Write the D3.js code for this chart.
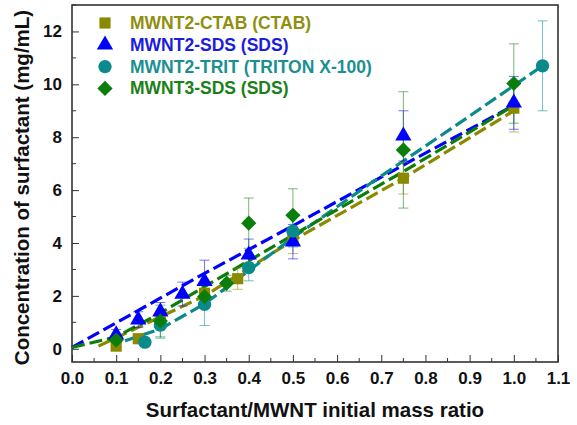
<!DOCTYPE html>
<html>
<head>
<meta charset="utf-8">
<script src="https://cdn.jsdelivr.net/npm/d3@7"></script>
<style>
  body { margin: 0; background: #fff; }
  svg { font-family: "Liberation Sans", Arial, sans-serif; font-weight: bold; }
</style>
</head>
<body>
<div id="app"></div>
<script>
// values

const xTicks = [0, 0.1, 0.2, 0.3, 0.4, 0.5, 0.6, 0.7, 0.8, 0.9, 1.0, 1.1];
const yTicks = [0, 2, 4, 6, 8, 10, 12];

const ctabX = [0.1, 0.15, 0.2, 0.3, 0.375, 0.5, 0.75, 1.0];
const ctabY = [0.1, 0.38, 1.0, 2.1, 2.65, 4.1, 6.45, 9.1];
const ctabErr = [0.1, 0.15, 0.3, 0.3, 0.4, 0.5, 0.6, 0.9];
const ctabFitX = [0.06, 0.3, 0.5, 0.75, 1.0];
const ctabFitY = [0.1, 2.0, 4.1, 6.45, 9.0];

const sdsX = [0.1, 0.15, 0.2, 0.25, 0.3, 0.4, 0.5, 0.75, 1.0];
const sdsY = [0.53, 1.1, 1.4, 2.07, 2.55, 3.55, 4.05, 8.05, 9.3];
const sdsErr = [0.2, 0.3, 0.35, 0.45, 0.8, 0.6, 0.65, 0.95, 1.0];
const sdsFitX = [0, 0.3, 0.5, 0.75, 1.0];
const sdsFitY = [0.05, 2.85, 4.65, 6.95, 9.2];

const tritX = [0.165, 0.2, 0.3, 0.4, 0.5, 1.065];
const tritY = [0.25, 0.9, 1.68, 3.07, 4.45, 10.7];
const tritErr = [0.15, 0.5, 0.8, 0.5, 0.6, 1.7];
const tritFitX = [0.12, 0.2, 0.3, 0.4, 0.5, 0.675, 0.9, 1.065];
const tritFitY = [0.3, 0.75, 1.7, 2.95, 4.2, 6.25, 8.8, 10.7];

const m3X = [0.1, 0.2, 0.3, 0.35, 0.4, 0.5, 0.75, 1.0];
const m3Y = [0.33, 1.05, 1.97, 2.48, 4.75, 5.05, 7.52, 10.03];
const m3Err = [0.15, 0.6, 0.3, 0.3, 0.95, 1.0, 2.2, 1.5];
const m3FitX = [0, 0.1, 0.2, 0.3, 0.5, 0.75, 1.0];
const m3FitY = [0.05, 0.45, 1.35, 2.35, 4.3, 6.7, 9.2];

const series = [
  {name: 'MWNT2-CTAB (CTAB)', x: ctabX, y: ctabY, err: ctabErr, fx: ctabFitX, fy: ctabFitY,
   color: '#8a8a00', text: '#8f8f10', symbol: d3.symbolSquare, size: 125, rot: 0},
  {name: 'MWNT2-SDS (SDS)', x: sdsX, y: sdsY, err: sdsErr, fx: sdsFitX, fy: sdsFitY,
   color: '#0000ff', text: '#1c1cdd', symbol: d3.symbolTriangle, size: 115, rot: 0},
  {name: 'MWNT2-TRIT (TRITON X-100)', x: tritX, y: tritY, err: tritErr, fx: tritFitX, fy: tritFitY,
   color: '#0a8a8a', text: '#1a9090', symbol: d3.symbolCircle, size: 140, rot: 0},
  {name: 'MWNT3-SDS (SDS)', x: m3X, y: m3Y, err: m3Err, fx: m3FitX, fy: m3FitY,
   color: '#0a7d0a', text: '#1a801a', symbol: d3.symbolSquare, size: 115, rot: 45}
];

const W = 577, H = 425;
const margin = {left: 72, right: 19, top: 5, bottom: 63};

const svg = d3.select('#app').append('svg')
  .attr('width', W).attr('height', H);

const x = d3.scaleLinear().domain([0, 1.1]).range([margin.left, W - margin.right]);
const y = d3.scaleLinear().domain([-0.5, 13]).range([H - margin.bottom, margin.top]);

// axes: ticks point inward, minor ticks halfway
const xMinor = xTicks.slice(0, -1).map(t => t + 0.05);
const yMinor = yTicks.map(t => t + 1);

const xAxis = svg.append('g').attr('transform', `translate(0,${y.range()[0]})`);
xAxis.call(d3.axisBottom(x).tickValues(xTicks).tickFormat(d3.format('.1f'))
  .tickSizeInner(-7).tickSizeOuter(0).tickPadding(10));
xAxis.call(g => g.selectAll('.minor').data(xMinor).enter().append('line')
  .attr('x1', d => x(d)).attr('x2', d => x(d)).attr('y1', 0).attr('y2', -4)
  .attr('stroke', '#333'));

const yAxis = svg.append('g').attr('transform', `translate(${x.range()[0]},0)`);
yAxis.call(d3.axisLeft(y).tickValues(yTicks).tickSizeInner(-7).tickSizeOuter(0).tickPadding(10));
yAxis.call(g => g.selectAll('.minor').data(yMinor).enter().append('line')
  .attr('y1', d => y(d)).attr('y2', d => y(d)).attr('x1', 0).attr('x2', 4)
  .attr('stroke', '#333'));

svg.selectAll('.tick text').attr('font-size', 17).attr('font-weight', 'bold')
  .attr('font-family', '"Liberation Sans", Arial, sans-serif').attr('fill', '#111');
svg.selectAll('.tick line').attr('stroke', '#333');
svg.selectAll('.domain').remove();

// frame
svg.append('rect')
  .attr('x', x.range()[0]).attr('y', y.range()[1])
  .attr('width', x.range()[1] - x.range()[0]).attr('height', y.range()[0] - y.range()[1])
  .attr('fill', 'none').attr('stroke', '#333').attr('stroke-width', 1.6);

// fit lines
const line = d3.line().x(d => x(d[0])).y(d => y(d[1]));
series.forEach(s => {
  svg.append('path')
    .datum(s.fx.map((v, i) => [v, s.fy[i]]))
    .attr('d', line)
    .attr('fill', 'none').attr('stroke', s.color).attr('stroke-width', 3.2)
    .attr('stroke-dasharray', '13,5');
});

// error bars
series.forEach(s => {
  const pts = s.x.map((v, i) => ({x: v, y: s.y[i], e: s.err[i]}));
  const g = svg.append('g').attr('stroke', s.color).attr('stroke-opacity', 0.55).attr('stroke-width', 1);
  g.selectAll('line.bar').data(pts).enter().append('line')
    .attr('x1', d => x(d.x)).attr('x2', d => x(d.x))
    .attr('y1', d => y(d.y - d.e)).attr('y2', d => y(d.y + d.e));
  g.selectAll('line.capT').data(pts).enter().append('line')
    .attr('x1', d => x(d.x) - 5).attr('x2', d => x(d.x) + 5)
    .attr('y1', d => y(d.y + d.e)).attr('y2', d => y(d.y + d.e));
  g.selectAll('line.capB').data(pts).enter().append('line')
    .attr('x1', d => x(d.x) - 5).attr('x2', d => x(d.x) + 5)
    .attr('y1', d => y(d.y - d.e)).attr('y2', d => y(d.y - d.e));
});

// markers
series.forEach(s => {
  const sym = d3.symbol().type(s.symbol).size(s.size);
  svg.append('g').selectAll('path').data(s.x.map((v, i) => [v, s.y[i]])).enter()
    .append('path')
    .attr('d', sym)
    .attr('transform', d => `translate(${x(d[0])},${y(d[1])}) rotate(${s.rot})`)
    .attr('fill', s.color);
});

// legend
const legend = svg.append('g').attr('transform', 'translate(105,23)');
series.forEach((s, i) => {
  const row = legend.append('g').attr('transform', `translate(0,${i * 21.8})`);
  row.append('path')
    .attr('d', d3.symbol().type(s.symbol).size(s.size)())
    .attr('transform', `rotate(${s.rot})`)
    .attr('fill', s.color);
  row.append('text').attr('x', 25).attr('y', 6)
    .attr('font-size', 17.5).attr('fill', s.text).text(s.name);
});

// axis titles
svg.append('text')
  .attr('x', (x.range()[0] + x.range()[1]) / 2).attr('y', 417)
  .attr('text-anchor', 'middle').attr('font-size', 20.5).attr('fill', '#111')
  .text('Surfactant/MWNT initial mass ratio');

svg.append('text')
  .attr('transform', `translate(29,${(y.range()[0] + y.range()[1]) / 2 + 4}) rotate(-90)`)
  .attr('text-anchor', 'middle').attr('font-size', 20.5).attr('fill', '#111')
  .text('Concentration of surfactant (mg/mL)');
</script>
</body>
</html>
